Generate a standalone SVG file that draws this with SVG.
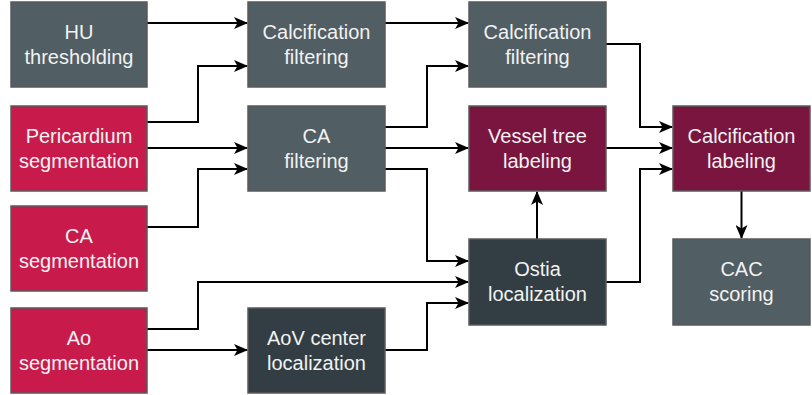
<svg xmlns="http://www.w3.org/2000/svg" width="812" height="395" viewBox="0 0 812 395">
<style>
.n rect{stroke:#5a5a5a;stroke-width:1.5}
.g rect{fill:#515E63}
.r rect{fill:#C81B4C}
.m rect{fill:#7A1540}
.d rect{fill:#333E44}
.n text{fill:#F2F2F2;font-family:"Liberation Sans",Arial,sans-serif;font-size:20px;text-anchor:middle}
.c path{fill:none;stroke:#000;stroke-width:2;marker-end:url(#a)}
</style>
<defs>
<marker id="a" viewBox="0 0 14 12" markerWidth="14" markerHeight="12" refX="13" refY="6" orient="auto" markerUnits="userSpaceOnUse">
<path d="M0,0 L14,6 L0,12 L3.5,6 Z" fill="#000"/>
</marker>
</defs>
<rect width="812" height="395" fill="#fff"/>
<g id="connectors" class="c">
<path d="M147,23 H247"/>
<path d="M147,122 H198 V66 H247"/>
<path d="M147,148 H247"/>
<path d="M147,227 H198 V169 H247"/>
<path d="M385,23 H468"/>
<path d="M385,127 H427 V66 H468"/>
<path d="M385,148 H468"/>
<path d="M385,169 H427 V261 H468"/>
<path d="M147,329 H198 V282 H468"/>
<path d="M147,350 H247"/>
<path d="M385,350 H427 V303 H468"/>
<path d="M537,239 V192"/>
<path d="M606,44 H640 V127 H672"/>
<path d="M606,148 H672"/>
<path d="M606,282 H640 V169 H672"/>
<path d="M741.5,191 V238"/>
</g>
<g id="hu" class="n g"><rect x="11" y="2" width="136" height="85"/><text x="79" y="39">HU</text><text x="79" y="64">thresholding</text></g>
<g id="pericardium" class="n r"><rect x="11" y="106" width="136" height="85"/><text x="79" y="143">Pericardium</text><text x="79" y="168">segmentation</text></g>
<g id="caseg" class="n r"><rect x="11" y="206" width="136" height="85"/><text x="79" y="243">CA</text><text x="79" y="268">segmentation</text></g>
<g id="aoseg" class="n r"><rect x="11" y="308" width="136" height="85"/><text x="79" y="345">Ao</text><text x="79" y="370">segmentation</text></g>
<g id="calcfilt1" class="n g"><rect x="248" y="2" width="137" height="85"/><text x="316.5" y="39">Calcification</text><text x="316.5" y="64">filtering</text></g>
<g id="cafilt" class="n g"><rect x="248" y="106" width="137" height="85"/><text x="316.5" y="143">CA</text><text x="316.5" y="168">filtering</text></g>
<g id="aov" class="n d"><rect x="248" y="308" width="137" height="85"/><text x="316.5" y="345">AoV center</text><text x="316.5" y="370">localization</text></g>
<g id="calcfilt2" class="n g"><rect x="469" y="2" width="137" height="85"/><text x="537.5" y="39">Calcification</text><text x="537.5" y="64">filtering</text></g>
<g id="vessel" class="n m"><rect x="469" y="106" width="137" height="85"/><text x="537.5" y="143">Vessel tree</text><text x="537.5" y="168">labeling</text></g>
<g id="ostia" class="n d"><rect x="469" y="239" width="137" height="86"/><text x="537.5" y="276">Ostia</text><text x="537.5" y="301">localization</text></g>
<g id="calclab" class="n m"><rect x="673" y="106" width="137" height="85"/><text x="741.5" y="143">Calcification</text><text x="741.5" y="168">labeling</text></g>
<g id="cac" class="n g"><rect x="673" y="239" width="137" height="86"/><text x="741.5" y="276">CAC</text><text x="741.5" y="301">scoring</text></g>
</svg>
